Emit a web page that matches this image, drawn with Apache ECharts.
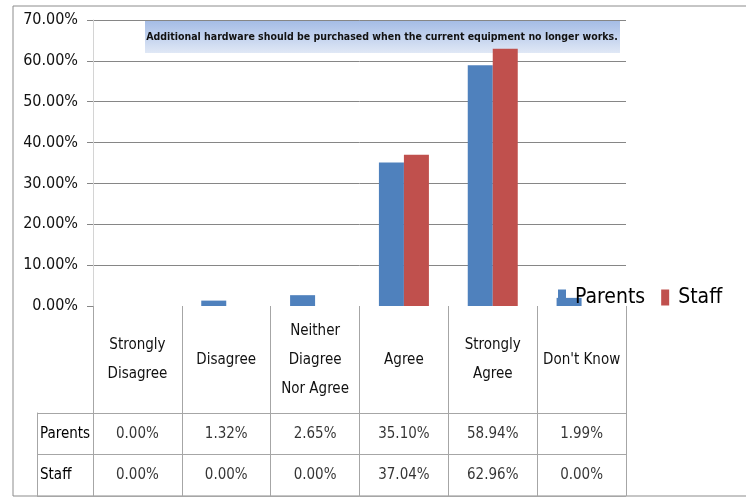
<!DOCTYPE html>
<html>
<head>
<meta charset="utf-8">
<script src="https://cdn.jsdelivr.net/npm/echarts@6/dist/echarts.min.js"></script>
<style>
    html, body { margin: 0; padding: 0; background: #fff; }
    #chart { width: 746px; height: 497px; }
</style>
</head>
<body>
<div id="chart"></div>
<script>
const categories = ['Strongly\nDisagree', 'Disagree', 'Neither\nDiagree\nNor Agree', 'Agree', 'Strongly\nAgree', "Don't Know"];
const parents = [0.00, 1.32, 2.65, 35.10, 58.94, 1.99];
const staff = [0.00, 0.00, 0.00, 37.04, 62.96, 0.00];
const rowNames = ['Parents', 'Staff'];
const yTicks = { min: 0, max: 70, interval: 10 };
const titleText = 'Additional hardware should be purchased when the current equipment no longer works.';

const FONT = '"Liberation Sans Narrow", "DejaVu Sans Condensed", sans-serif';
const lineGrey = '#a6a6a6';
const pct = v => v.toFixed(2) + '%';

var myChart = echarts.init(document.getElementById('chart'));

// table cells, one point per category and row
const cellData = (arr, row) => arr.map((v, i) => [i, row, v]);

const cellLabel = {
    show: true,
    position: 'inside',
    fontSize: 15,
    color: '#000',
    fontFamily: FONT,
    textBorderWidth: 0,
    formatter: p => pct(p.value[2])
};

myChart.setOption({
    animation: false,
    textStyle: { fontFamily: FONT },
    grid: [
        { left: 93, right: 120, top: 20, bottom: 191 },
        { left: 93, right: 120, top: 413, bottom: 1 }
    ],
    legend: {
        data: ['Parents', 'Staff'],
        left: 553,
        top: 282,
        width: 190,
        icon: 'rect',
        itemWidth: 8,
        itemHeight: 16,
        itemGap: 16,
        textStyle: { fontSize: 21, color: '#000', fontFamily: FONT, padding: [0, 0, 0, 4] }
    },
    xAxis: [
        {
            gridIndex: 0,
            type: 'category',
            data: categories,
            axisLine: { show: true, lineStyle: { color: 'rgba(0,0,0,0)' } },
            axisTick: { show: true, length: 107, lineStyle: { color: lineGrey } },
            axisLabel: {
                fontSize: 15,
                lineHeight: 29,
                color: '#111',
                margin: 54,
                verticalAlign: 'middle',
                interval: 0
            }
        },
        {
            gridIndex: 1,
            type: 'category',
            data: categories,
            position: 'top',
            axisLine: { show: true, lineStyle: { color: lineGrey } },
            axisTick: { show: false },
            axisLabel: { show: false },
            splitLine: { show: true, lineStyle: { color: lineGrey } }
        }
    ],
    yAxis: [
        {
            gridIndex: 0,
            type: 'value',
            min: yTicks.min,
            max: yTicks.max,
            interval: yTicks.interval,
            axisLine: { show: true, lineStyle: { color: '#d4d4d4' } },
            axisTick: { show: true, length: 6, lineStyle: { color: '#868686' } },
            axisLabel: { fontSize: 16, color: '#111', margin: 15, formatter: pct },
            splitLine: { show: true, showMinLine: false, lineStyle: { color: '#868686' } }
        },
        {
            gridIndex: 1,
            type: 'category',
            data: rowNames,
            inverse: true,
            position: 'left',
            axisLine: { show: true, lineStyle: { color: lineGrey } },
            axisTick: { show: true, length: 56, lineStyle: { color: lineGrey } },
            axisLabel: { fontSize: 15, color: '#000', align: 'left', margin: 53 },
            splitLine: { show: true, lineStyle: { color: lineGrey } }
        },
        {
            gridIndex: 1,
            type: 'category',
            data: rowNames,
            inverse: true,
            position: 'left',
            offset: 56,
            axisLine: { show: true, lineStyle: { color: lineGrey } },
            axisTick: { show: false },
            axisLabel: { show: false }
        }
    ],
    series: [
        {
            name: 'Parents',
            type: 'bar',
            data: parents,
            barWidth: 25,
            barGap: '0%',
            itemStyle: { color: '#4f81bd' }
        },
        {
            name: 'Staff',
            type: 'bar',
            data: staff,
            barWidth: 25,
            itemStyle: { color: '#c0504d' }
        },
        {
            name: 'parentsRow',
            type: 'scatter',
            xAxisIndex: 1,
            yAxisIndex: 1,
            data: cellData(parents, 0),
            symbolSize: 1,
            itemStyle: { color: 'rgba(0,0,0,0)' },
            label: cellLabel
        },
        {
            name: 'staffRow',
            type: 'scatter',
            xAxisIndex: 1,
            yAxisIndex: 1,
            data: cellData(staff, 1),
            symbolSize: 1,
            itemStyle: { color: 'rgba(0,0,0,0)' },
            label: cellLabel
        }
    ],
    graphic: [
        {
            type: 'rect',
            z: 0,
            silent: true,
            shape: { x: 13, y: 6, width: 740, height: 490 },
            style: { fill: 'none', stroke: '#8c8c8c', lineWidth: 1 }
        },
        {
            type: 'group',
            x: 145,
            y: 20,
            z: 100,
            children: [
                {
                    type: 'rect',
                    shape: { x: 0, y: 0, width: 475, height: 33 },
                    style: {
                        fill: new echarts.graphic.LinearGradient(0, 0, 0, 1, [
                            { offset: 0, color: '#a3bbe5' },
                            { offset: 1, color: '#e0e8f6' }
                        ])
                    }
                },
                {
                    type: 'text',
                    x: 237,
                    y: 17,
                    style: {
                        text: titleText,
                        fontFamily: FONT,
                        fontSize: 10.5,
                        fontWeight: 'bold',
                        fill: '#111',
                        align: 'center',
                        verticalAlign: 'middle'
                    }
                }
            ]
        }
    ]
});
</script>
</body>
</html>
